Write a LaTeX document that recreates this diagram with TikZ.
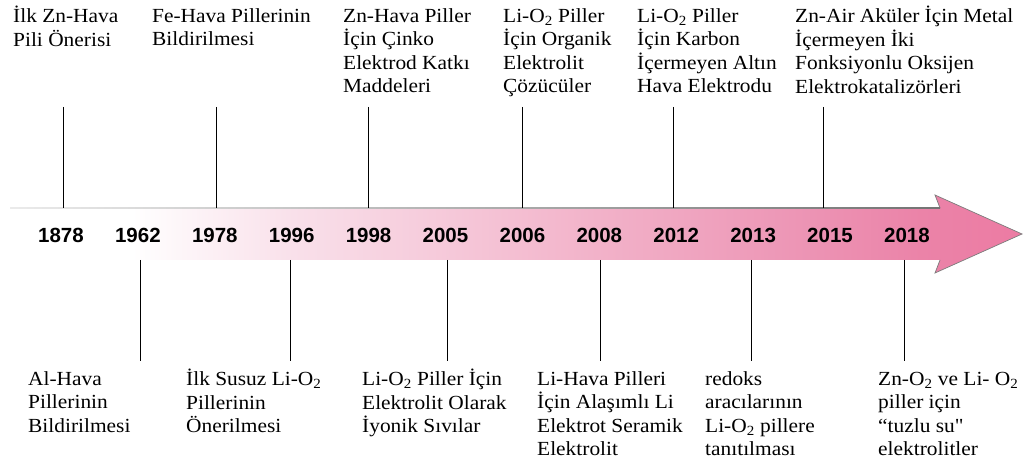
\documentclass[tikz,border=0pt]{standalone}
\usepackage{fontspec}
\setmainfont{Liberation Serif}[FakeStretch=1.07]
\newfontfamily\yearfont{Liberation Sans}
\definecolor{pkA}{HTML}{F9E0EA}
\definecolor{pkB}{HTML}{F2B2C9}
\definecolor{pkC}{HTML}{EC92B3}
\definecolor{pkD}{HTML}{EB83A8}
\definecolor{pkE}{HTML}{EC7BA3}
\definecolor{edgegray}{HTML}{7C7C7C}
\pgfdeclarehorizontalshading{tlshade}{100bp}{color(0bp)=(white); color(25bp)=(white); color(31bp)=(white); color(39bp)=(pkA); color(54bp)=(pkB); color(65bp)=(pkC); color(70bp)=(pkD); color(75bp)=(pkE); color(100bp)=(pkE)}
\tikzset{
  lab/.style={font=\fontsize{20}{23.5}\selectfont, align=left, inner sep=0pt, anchor=north west},
  yr/.style={font=\yearfont\bfseries\fontsize{20.5}{24}\selectfont, inner sep=0pt, anchor=base},
  tick/.style={draw=black, line width=0.8pt}
}
\newcommand{\fl}{\rule{0pt}{16pt}}
\newcommand{\oo}{O\textsubscript{2}}
\newcommand{\straightq}{\XeTeXglyph\XeTeXcharglyph"22\relax}
\begin{document}
\begin{tikzpicture}[x=1pt,y=-1pt]
\useasboundingbox (0,0) rectangle (1033,470);
% arrow
\path[shading=tlshade] (10,208) -- (940,208) -- (935,195) -- (1022,234) -- (935,273) -- (940,260) -- (10,260) -- cycle;
\draw[edgegray, line width=0.7pt, line join=miter] (940,208) -- (935,195) -- (1022,234) -- (935,273) -- (940,260);
\shade[left color=black!8, right color=black!55] (10,207.2) rectangle (940,208.6);
% years
\foreach \yy [count=\i from 0] in {1878,1962,1978,1996,1998,2005,2006,2008,2012,2013,2015,2018}
  \node[yr] (y\yy) at ({61+76.9*\i},242.5) {\yy};
% top texts
\node[lab] (t1) at (13,6) {\fl İlk Zn-Hava\\Pili Önerisi};
\node[lab] (t2) at (152,6) {\fl Fe-Hava Pillerinin\\Bildirilmesi};
\node[lab] (t3) at (343,6) {\fl Zn-Hava Piller\\İçin Çinko\\Elektrod Katkı\\Maddeleri};
\node[lab] (t4) at (503,6) {\fl Li-\oo{} Piller\\İçin Organik\\Elektrolit\\Çözücüler};
\node[lab] (t5) at (637,6) {\fl Li-\oo{} Piller\\İçin Karbon\\İçermeyen Altın\\Hava Elektrodu};
\node[lab] (t6) at (795,6) {\fl Zn-Air Aküler İçin Metal\\İçermeyen İki\\Fonksiyonlu Oksijen\\Elektrokatalizörleri};
% bottom texts
\node[lab] (b1) at (28,369) {\fl Al-Hava\\Pillerinin\\Bildirilmesi};
\node[lab] (b2) at (186,369) {\fl İlk Susuz Li-\oo\\Pillerinin\\Önerilmesi};
\node[lab] (b3) at (362,369) {\fl Li-\oo{} Piller İçin\\Elektrolit Olarak\\İyonik Sıvılar};
\node[lab] (b4) at (537,369) {\fl Li-Hava Pilleri\\İçin Alaşımlı Li\\Elektrot Seramik\\Elektrolit};
\node[lab] (b5) at (705,369) {\fl redoks\\aracılarının\\Li-\oo{} pillere\\tanıtılması};
\node[lab] (b6) at (878,369) {\fl Zn-\oo{} ve Li- \oo\\piller için\\“tuzlu su\straightq\\elektrolitler};
% tick coordinates
\foreach \n/\xx in {1/63,2/216,3/368,4/522,5/673,6/823}{
  \coordinate (ta\n) at (\xx,107);
  \coordinate (tb\n) at (\xx,208);
}
\foreach \n/\xx in {1/140,2/290,3/447,4/600,5/751,6/904}{
  \coordinate (ba\n) at (\xx,260);
  \coordinate (bb\n) at (\xx,361);
}
\foreach \n in {1,...,6}{
  \draw[tick] (ta\n) -- (tb\n);
  \draw[tick] (ba\n) -- (bb\n);
}
\end{tikzpicture}
\end{document}
